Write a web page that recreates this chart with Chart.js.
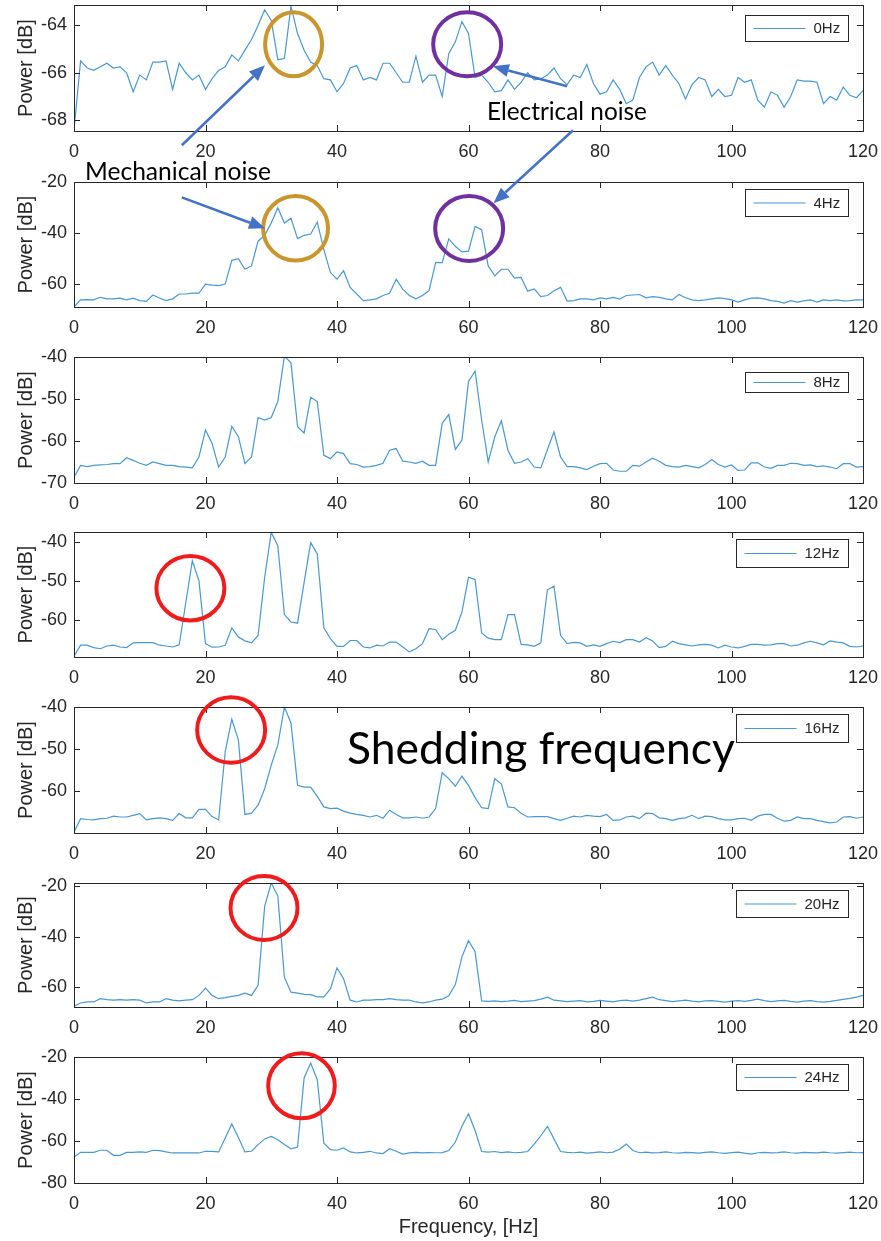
<!DOCTYPE html>
<html><head><meta charset="utf-8">
<script src="https://cdn.jsdelivr.net/npm/chart.js@4.4.1/dist/chart.umd.min.js"></script>
<style>
html,body{margin:0;padding:0;background:#fff;}
body{width:881px;height:1241px;position:relative;overflow:hidden;}
.panel{position:absolute;left:0;width:881px;z-index:1;}
#overlay{position:absolute;left:0;top:0;z-index:5;pointer-events:none;}
.note{position:absolute;white-space:nowrap;z-index:6;}
</style></head><body>
<script>
// ---------------- data ----------------
const freqHz = Array.from({length:121},(_,i)=>i);
const xTicks = [0,20,40,60,80,100,120];
const legendLabels = ['0Hz','4Hz','8Hz','12Hz','16Hz','20Hz','24Hz'];

const power0Hz = [-68.4,-65.5,-65.8,-65.9,-65.75,-65.6,-65.8,-65.75,-66.0,-66.8,-66.1,-66.3,-65.55,-65.55,-65.5,-66.7,-65.6,-66.0,-66.3,-66.1,
-66.7,-66.25,-65.9,-65.75,-65.25,-65.5,-65.05,-64.6,-64.0,-63.35,-63.8,-65.45,-65.4,-63.2,-64.35,-65.05,-65.55,-65.7,-66.25,-66.3,
-66.8,-66.45,-65.8,-65.7,-66.3,-66.2,-66.3,-65.6,-65.6,-66.0,-66.4,-66.4,-65.3,-66.4,-66.1,-66.1,-67.0,-65.2,-64.7,-63.85,
-64.35,-66.2,-66.1,-66.4,-66.8,-66.75,-66.3,-66.7,-66.4,-66.0,-66.3,-66.25,-66.1,-65.8,-66.25,-66.5,-66.1,-66.2,-65.65,-66.45,
-66.9,-66.8,-66.3,-66.7,-67.3,-67.15,-66.2,-65.75,-65.55,-66.1,-65.7,-66.1,-66.45,-67.1,-66.5,-66.2,-66.3,-67.0,-66.7,-67.0,
-66.95,-66.2,-66.4,-66.3,-67.15,-67.45,-66.8,-66.95,-67.45,-67.0,-66.3,-66.35,-66.35,-66.4,-67.3,-67.0,-67.15,-66.6,-66.95,-67.05,-66.75];

const power4Hz = [-69,-66.2,-66.1,-66.2,-65.2,-65.8,-65.8,-65.5,-66.2,-65.5,-66.5,-66.8,-64.3,-65.5,-66.5,-65.8,-63.9,-63.9,-63.6,-63.6,
-60,-60.4,-60.6,-60,-50.7,-50.1,-54.2,-52.9,-43.2,-40.9,-36.1,-30.1,-36.1,-34.2,-42.2,-40.9,-40.4,-35.7,-46.5,-55.5,
-58.1,-54.8,-61.3,-63.9,-66.5,-66.2,-65.8,-64.5,-63.6,-58.1,-62,-64.5,-65.8,-64.5,-62.6,-51.6,-51.6,-42.3,-45.2,-47.4,
-47.1,-37.4,-38.7,-52.9,-56.8,-54.2,-54.2,-57.7,-57.4,-62.8,-61.9,-64.9,-64.5,-62.6,-61.3,-66.7,-66.5,-65.8,-65.8,-66.2,
-65.4,-65.8,-65.2,-65.9,-64.5,-64.3,-64.1,-65.4,-64.9,-65.2,-65.8,-66.2,-64.1,-65.4,-66.2,-66.5,-66.2,-65.8,-65.4,-65.7,
-66.2,-67.1,-66.2,-65.5,-65.4,-65.8,-66.5,-66.8,-67.5,-66.5,-67.1,-66.6,-66.2,-67.1,-66.2,-66.5,-66.2,-66.6,-66.5,-66.2,-66.2];

const power8Hz = [-68.6,-65.8,-66.1,-65.8,-65.7,-65.6,-65.4,-65.4,-64.0,-64.6,-65.3,-65.8,-65.0,-65.4,-65.8,-65.8,-66.1,-66.2,-66.4,-63.8,
-57.4,-60.6,-66.2,-63.8,-56.5,-59.0,-65.4,-63.8,-54.4,-55.0,-54.4,-50.6,-39.8,-41.4,-56.6,-58.1,-49.6,-50.6,-63.4,-64.2,
-62.6,-63.0,-65.4,-65.6,-66.2,-66.1,-65.8,-65.3,-62.2,-61.8,-64.8,-65.0,-65.3,-64.8,-65.8,-65.8,-55.8,-53.7,-62.0,-59.8,
-45.8,-43.4,-55.0,-65.0,-59.0,-55.2,-62.2,-65.3,-65.0,-64.2,-66.2,-66.4,-62.1,-57.8,-63.8,-66.1,-66.1,-66.4,-66.8,-66.0,
-65.4,-65.3,-66.9,-67.2,-67.2,-65.8,-66.0,-65.0,-64.1,-64.8,-65.8,-66.1,-66.2,-65.8,-66.1,-66.4,-65.6,-64.4,-65.6,-66.2,
-65.7,-67.0,-66.9,-65.2,-65.2,-66.2,-66.5,-65.8,-65.8,-65.3,-65.4,-65.8,-65.7,-66.1,-65.9,-66.2,-66.6,-65.4,-65.4,-66.2,-66.1];

const power12Hz = [-69.1,-66.3,-66.3,-66.9,-67.2,-66.5,-66.3,-66.75,-66.9,-65.7,-65.65,-65.65,-65.65,-66.3,-66.5,-66.75,-66.2,-55.5,-44.8,-49.9,
-65.9,-66.8,-66.75,-66.3,-61.9,-64.2,-65.2,-65.7,-63.8,-49.0,-37.6,-41.0,-58.5,-60.4,-60.7,-50.3,-40.2,-43.1,-61.9,-64.6,
-66.6,-66.6,-65.1,-65.1,-66.75,-67.0,-66.3,-66.5,-65.5,-65.5,-66.75,-68.0,-67.2,-65.9,-62.1,-62.3,-64.9,-63.5,-62.5,-57.9,
-49.0,-49.6,-63.2,-64.5,-64.9,-64.9,-58.5,-58.5,-66.1,-66.2,-66.6,-65.7,-52.2,-51.3,-63.8,-65.9,-65.6,-65.7,-66.6,-66.2,
-66.6,-65.9,-65.3,-65.65,-64.9,-64.9,-65.5,-64.4,-65.2,-66.9,-66.6,-65.3,-65.9,-66.2,-66.5,-66.2,-66.1,-66.3,-67.0,-66.3,
-66.75,-67.0,-66.6,-66.1,-66.1,-66.3,-66.2,-65.9,-65.9,-66.5,-66.3,-65.7,-65.3,-65.7,-66.2,-65.2,-65.5,-65.7,-66.6,-66.75,-66.5];

const power16Hz = [-69.7,-66.5,-66.7,-66.8,-66.5,-66.4,-65.9,-66.1,-66.1,-65.7,-65.3,-66.8,-66.5,-66.3,-66.5,-66.9,-65.3,-66.3,-66.3,-64.3,
-64.3,-66.0,-66.8,-50.6,-42.9,-47.8,-65.5,-65.2,-63.3,-59.4,-53.8,-49.0,-40.0,-43.8,-58.6,-59.0,-59.0,-61.2,-63.7,-64.1,
-64.0,-64.7,-65.2,-65.5,-65.7,-66.1,-65.7,-66.4,-64.5,-65.5,-66.3,-66.3,-66.1,-66.4,-66.1,-64.1,-55.6,-57.0,-58.8,-56.4,
-58.6,-61.5,-63.9,-64.1,-57.0,-58.3,-63.7,-63.9,-65.2,-66.1,-66.0,-66.0,-66.0,-66.5,-66.9,-66.4,-65.9,-66.1,-65.7,-65.9,
-66.0,-65.5,-66.9,-66.8,-66.1,-65.9,-66.5,-65.2,-65.3,-66.3,-66.5,-66.9,-66.5,-66.3,-65.7,-66.5,-65.9,-66.0,-66.5,-66.8,
-66.8,-66.5,-66.4,-66.9,-65.9,-65.5,-65.5,-66.4,-67.1,-66.9,-66.1,-66.5,-66.5,-66.9,-67.2,-67.5,-67.3,-66.1,-66.0,-66.4,-66.1];

const power20Hz = [-67.6,-66.3,-65.9,-65.9,-64.6,-65.0,-65.2,-65.0,-65.2,-65.0,-65.2,-66.3,-65.9,-65.9,-64.6,-65.2,-65.5,-65.2,-65.0,-63.3,
-60.4,-63.3,-64.6,-64.2,-63.7,-63.3,-62.4,-63.3,-59.3,-27.9,-18.7,-23.9,-56.1,-62.0,-62.4,-62.9,-63.0,-63.9,-63.9,-60.7,
-52.4,-56.7,-65.2,-65.9,-65.2,-65.2,-65.0,-65.0,-64.6,-65.0,-65.2,-65.2,-65.9,-66.3,-65.9,-65.2,-64.8,-63.5,-59.0,-48.0,
-41.6,-46.0,-65.5,-65.7,-65.5,-65.8,-65.6,-65.3,-65.8,-65.6,-65.4,-64.8,-64.0,-65.2,-65.5,-65.8,-65.6,-65.4,-65.9,-65.7,
-65.3,-65.6,-65.9,-65.4,-65.2,-65.6,-65.2,-64.6,-64.0,-65.0,-65.4,-65.8,-65.5,-65.2,-65.6,-65.9,-65.5,-65.4,-65.7,-66.0,
-65.6,-65.4,-65.7,-65.3,-64.8,-65.4,-65.8,-65.5,-65.3,-65.7,-66.0,-65.6,-65.4,-65.8,-66.0,-65.7,-65.3,-64.9,-64.5,-64.0,-63.3];

const power24Hz = [-67.6,-65.4,-65.4,-65.4,-64.4,-64.4,-66.8,-66.8,-65.4,-65.4,-65.2,-65.4,-64.4,-64.6,-65.2,-65.7,-65.7,-65.7,-65.7,-65.7,
-64.9,-64.9,-65.2,-58.6,-51.9,-58.3,-65.2,-64.9,-61.7,-59.0,-57.8,-59.4,-61.7,-63.7,-62.9,-30.0,-22.9,-30.8,-61.0,-64.1,
-64.4,-63.3,-65.2,-65.7,-65.4,-64.9,-65.7,-66.0,-63.7,-64.9,-66.2,-65.7,-65.4,-65.7,-65.5,-65.6,-65.5,-64.5,-60.5,-53.0,
-47.0,-55.0,-65.0,-65.3,-65.0,-65.5,-65.2,-65.6,-65.4,-65.0,-61.5,-57.5,-53.0,-59.0,-65.0,-65.4,-65.6,-65.3,-65.8,-65.5,
-65.2,-65.6,-65.3,-63.8,-61.5,-64.5,-65.6,-65.3,-65.7,-65.5,-65.2,-65.6,-65.8,-65.4,-65.5,-65.8,-65.4,-65.2,-65.6,-65.9,
-65.5,-65.3,-65.8,-66.2,-65.6,-65.4,-65.7,-65.5,-65.2,-65.6,-65.8,-65.4,-65.5,-65.7,-65.3,-65.6,-65.8,-65.5,-65.3,-65.6,-65.5];

const series = [power0Hz,power4Hz,power8Hz,power12Hz,power16Hz,power20Hz,power24Hz];

const yTicks0 = [-68,-66,-64];
const yTicks4 = [-60,-40,-20];
const yTicks8 = [-70,-60,-50,-40];
const yTicks12 = [-60,-50,-40];
const yTicks16 = [-60,-50,-40];
const yTicks20 = [-60,-40,-20];
const yTicks24 = [-80,-60,-40,-20];
const yTickSets = [yTicks0,yTicks4,yTicks8,yTicks12,yTicks16,yTicks20,yTicks24];

// ---------------- layout / style ----------------
const FONT = "'Liberation Sans', Arial, Helvetica, sans-serif";
const INK = '#262626';
const LINE = '#4b98cf';
const PADTOP = 14;
const layout = [
  {top:5,   bottom:131,  min:-68.45, max:-63.15, xh:28, lgTop:10,  lgH:26},
  {top:182, bottom:307,  min:-69,    max:-20,    xh:28, lgTop:6.5, lgH:26.5},
  {top:357, bottom:483,  min:-70,    max:-40,    xh:28, lgTop:15,  lgH:20},
  {top:532, bottom:657,  min:-69.3,  max:-37.5,  xh:28, lgTop:6.5, lgH:27.5},
  {top:707, bottom:833,  min:-69.9,  max:-40,    xh:28, lgTop:6.5, lgH:27.5},
  {top:883, bottom:1007, min:-67.9,  max:-18.7,  xh:28, lgTop:7,   lgH:27},
  {top:1057,bottom:1183, min:-80,    max:-20,    xh:56, lgTop:7,   lgH:26}
];

const framePlugin = {
  id:'frame',
  afterDatasetsDraw(chart){
    const {ctx, chartArea:a, scales:{x,y}} = chart;
    const TL = 6;
    ctx.save();
    ctx.strokeStyle = INK; ctx.lineWidth = 1;
    ctx.beginPath();
    x.ticks.forEach(t=>{
      const px = Math.round(x.getPixelForValue(t.value))+0.5;
      ctx.moveTo(px,a.top); ctx.lineTo(px,a.top+TL);
      ctx.moveTo(px,a.bottom); ctx.lineTo(px,a.bottom-TL);
    });
    y.ticks.forEach(t=>{
      const py = Math.round(y.getPixelForValue(t.value))+0.5;
      ctx.moveTo(a.left,py); ctx.lineTo(a.left+TL,py);
      ctx.moveTo(a.right,py); ctx.lineTo(a.right-TL,py);
    });
    ctx.stroke();
    ctx.strokeRect(Math.round(a.left)+0.5, Math.round(a.top)+0.5, Math.round(a.width), Math.round(a.height));
    ctx.restore();
  },
  afterDraw(chart, args, opts){
    const {ctx, chartArea:a} = chart;
    ctx.save();
    ctx.font = '15px ' + FONT;
    const tw = ctx.measureText(opts.label).width;
    const w = 8 + 52 + 8 + tw + 9;
    const right = Math.round(a.right - 15) + 0.5;
    const left = Math.round(right - w) + 0.5;
    const top = Math.round(a.top + opts.top) + 0.5;
    const h = Math.round(opts.h);
    ctx.fillStyle = '#fff';
    ctx.fillRect(left, top, right-left, h);
    ctx.strokeStyle = INK; ctx.lineWidth = 1;
    ctx.strokeRect(left, top, right-left, h);
    const my = top + h/2;
    ctx.strokeStyle = LINE; ctx.lineWidth = 1.2;
    ctx.beginPath(); ctx.moveTo(left+8, my); ctx.lineTo(left+60, my); ctx.stroke();
    ctx.fillStyle = INK; ctx.textBaseline = 'middle'; ctx.textAlign = 'left';
    ctx.fillText(opts.label, left+68, my+0.5);
    ctx.restore();
  }
};

const charts = [];
function makeChart(i){
  const L = layout[i];
  const h = (L.bottom - L.top) + PADTOP + L.xh;
  const div = document.createElement('div');
  div.className = 'panel';
  div.style.top = (L.top - PADTOP) + 'px';
  div.style.height = h + 'px';
  const cv = document.createElement('canvas');
  cv.width = 881; cv.height = h;
  cv.style.width = '881px'; cv.style.height = h + 'px';
  div.appendChild(cv);
  document.body.appendChild(div);
  const last = (i === 6);
  const ch = new Chart(cv, {
    type:'line',
    data:{datasets:[{label:legendLabels[i], data:series[i].map((v,k)=>({x:freqHz[k], y:v})),
      borderColor:LINE, borderWidth:1.2, pointRadius:0, tension:0, fill:false}]},
    options:{
      responsive:false, animation:false, events:[],
      layout:{padding:{top:PADTOP, right:18, left:0, bottom:0}},
      plugins:{legend:{display:false}, tooltip:{enabled:false}, frame:{label:legendLabels[i], top:L.lgTop, h:L.lgH}},
      scales:{
        x:{type:'linear', min:0, max:120,
          afterBuildTicks(s){ s.ticks = xTicks.map(v=>({value:v})); },
          afterFit(s){ s.height = L.xh; s.paddingLeft = 0; s.paddingRight = 0; },
          grid:{display:false, drawTicks:false}, border:{display:false},
          ticks:{font:{family:FONT, size:18}, color:INK, padding:10, maxRotation:0, autoSkip:false},
          title: last ? {display:true, text:'Frequency, [Hz]', font:{family:FONT, size:20}, color:INK, padding:{top:0,bottom:0}} : {display:false}
        },
        y:{type:'linear', min:L.min, max:L.max,
          afterBuildTicks(s){ s.ticks = yTickSets[i].map(v=>({value:v})); },
          afterFit(s){ s.width = 74; s.paddingTop = 0; s.paddingBottom = 0; },
          grid:{display:false, drawTicks:false}, border:{display:false},
          ticks:{font:{family:FONT, size:18}, color:INK, padding:7, autoSkip:false},
          title:{display:true, text:'Power [dB]', font:{family:FONT, size:20}, color:INK, padding:{top:14,bottom:0}}
        }
      }
    },
    plugins:[framePlugin]
  });
  charts.push({chart:ch, top:L.top - PADTOP});
}
for (let i=0;i<7;i++) makeChart(i);

// ---------------- annotations (anchored in data coordinates of each panel) ----------------
function P(panel, hz, db){
  const c = charts[panel];
  return {x:c.chart.scales.x.getPixelForValue(hz), y:c.top + c.chart.scales.y.getPixelForValue(db)};
}
const ov = document.createElement('canvas');
ov.id = 'overlay'; ov.width = 881; ov.height = 1241;
ov.style.width='881px'; ov.style.height='1241px';
document.body.appendChild(ov);
const octx = ov.getContext('2d');

const circles = [
  {p:0, hz:33.4, db:-64.8,  rx:28.5, ry:32,   color:'#C8962C'},
  {p:0, hz:59.8, db:-64.8,  rx:34,   ry:32,   color:'#7030A0'},
  {p:1, hz:33.7, db:-38.15, rx:32.5, ry:32.3, color:'#C8962C'},
  {p:1, hz:60.1, db:-38.2,  rx:34,   ry:32.5, color:'#7030A0'},
  {p:3, hz:17.7, db:-51.8,  rx:34,   ry:32.3, color:'#EE1C1C'},
  {p:4, hz:23.9, db:-45.46, rx:34,   ry:32.7, color:'#EE1C1C'},
  {p:5, hz:28.9, db:-28.6,  rx:33.5, ry:32,   color:'#EE1C1C'},
  {p:6, hz:34.6, db:-33.7,  rx:33.3, ry:32.5, color:'#EE1C1C'}
];
circles.forEach(c=>{
  const q = P(c.p, c.hz, c.db);
  octx.save();
  octx.strokeStyle = c.color; octx.lineWidth = 4;
  octx.beginPath(); octx.ellipse(q.x, q.y, c.rx, c.ry, 0, 0, Math.PI*2); octx.stroke();
  octx.restore();
});

const arrows = [
  {from:[0,16.4,-69.05], to:[0,29.05,-65.68]},
  {from:[1,16.4,-26.0],  to:[1,29.05,-38.15]},
  {from:[0,75.0,-66.57], to:[0,63.7,-65.73]},
  {from:[0,75.9,-68.42], to:[1,63.8,-28.35]}
];
function drawArrow(ctx, a, b){
  const ang = Math.atan2(b.y-a.y, b.x-a.x);
  const HL = 16, HW = 6.5;
  const bx = b.x - HL*Math.cos(ang), by = b.y - HL*Math.sin(ang);
  ctx.save();
  ctx.strokeStyle = '#4472C4'; ctx.fillStyle = '#4472C4'; ctx.lineWidth = 2.5;
  ctx.beginPath(); ctx.moveTo(a.x,a.y); ctx.lineTo(bx,by); ctx.stroke();
  ctx.beginPath();
  ctx.moveTo(b.x,b.y);
  ctx.lineTo(bx + HW*Math.sin(ang), by - HW*Math.cos(ang));
  ctx.lineTo(bx - HW*Math.sin(ang), by + HW*Math.cos(ang));
  ctx.closePath(); ctx.fill();
  ctx.restore();
}
arrows.forEach(ar=>drawArrow(octx, P(...ar.from), P(...ar.to)));

// text notes, sized to the reference widths
const NOTE_FONT = "Lato, 'Open Sans', sans-serif";
function placeText(text, left, baseline, width){
  const m = document.createElement('canvas').getContext('2d');
  m.font = '100px ' + NOTE_FONT;
  const size = 100 * width / m.measureText(text).width;
  m.font = size + 'px ' + NOTE_FONT;
  const mm = m.measureText(text);
  const A = mm.fontBoundingBoxAscent, D = mm.fontBoundingBoxDescent;
  const lh = Math.ceil(A + D);
  const el = document.createElement('div');
  el.className = 'note';
  el.textContent = text;
  el.style.fontFamily = NOTE_FONT;
  el.style.fontSize = size + 'px';
  el.style.lineHeight = lh + 'px';
  el.style.color = '#000';
  el.style.left = left + 'px';
  el.style.top = (baseline - ((lh - A - D)/2 + A)) + 'px';
  document.body.appendChild(el);
}
placeText('Mechanical noise', 85, 180, 186);
placeText('Electrical noise', 487, 119.5, 160);
placeText('Shedding frequency', 347, 764, 388);
</script>
</body></html>
